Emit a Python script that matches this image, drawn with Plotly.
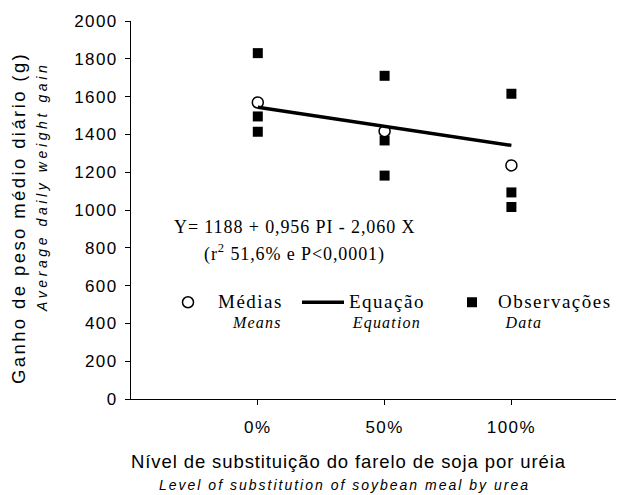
import plotly.graph_objects as go

# ---- data ----
levels = [0, 50, 100]
level_labels = ["0%", "50%", "100%"]
obs_x = [0, 0, 0, 50, 50, 50, 100, 100, 100]
obs_y = [1830, 1495, 1414, 1710, 1368, 1182, 1615, 1093, 1016]
means_y = [1569, 1417, 1236]
eq_y = [1544, 1443, 1342]
y_ticks = list(range(0, 2001, 200))

SANS = "Liberation Sans, Arial, sans-serif"
SERIF = "Liberation Serif, Times New Roman, serif"


def sp(text, ls, size=None, italic=False):
    st = f"letter-spacing:{ls}px;"
    if size:
        st += f"font-size:{size}px;"
    t = f"<span style='{st}'>{text}</span>"
    return f"<i>{t}</i>" if italic else t


fig = go.Figure()
fig.add_trace(go.Scatter(
    x=obs_x, y=obs_y, mode="markers",
    name=sp("Observações", 1.5, 19) + "<br>\u00a0\u00a0" + sp("Data", 1.2, 16, True),
    marker=dict(symbol="square", size=10, color="black"), legend="legend3"))
fig.add_trace(go.Scatter(
    x=levels, y=means_y, mode="markers",
    name=sp("Médias", 1.5, 19) + "<br>\u00a0\u00a0\u00a0\u00a0" + sp("Means", 1.2, 16, True),
    marker=dict(symbol="circle", size=11, color="white", line=dict(color="black", width=1.5)), legend="legend"))
fig.add_trace(go.Scatter(
    x=levels, y=eq_y, mode="lines",
    name=sp("Equação", 1.5, 19) + "<br>\u00a0" + sp("Equation", 1.2, 16, True),
    line=dict(color="black", width=3.5), legend="legend2"))

xr = [-50, 144.4]
axis_common = dict(showgrid=False, zeroline=False, linecolor="black", linewidth=1,
                   tickcolor="black", tickwidth=1, ticklen=5)
# page has an 8px body margin: figure sits at (8, 8)
fig.update_layout(
    width=616, height=487,
    margin=dict(l=123, r=0, t=13, b=96),
    paper_bgcolor="white", plot_bgcolor="white",
    font=dict(family=SANS, color="black", size=17),
    xaxis=dict(range=xr, showline=True, ticks="outside",
               tickvals=levels, ticktext=[sp(t, 1.4) for t in level_labels],
               ticklabelstandoff=8, **axis_common),
    yaxis=dict(range=[0, 2000], showline=True, ticks="outside",
               tickvals=y_ticks, ticktext=[sp(str(v), 1.4) for v in y_ticks],
               ticklabelstandoff=4, **axis_common),
    xaxis2=dict(range=xr, overlaying="x", anchor="y", side="bottom", ticks="inside",
                tickvals=[-50] + levels, showticklabels=False, showline=False, **axis_common),
    yaxis2=dict(range=[0, 2000], overlaying="y", anchor="x", side="left", ticks="inside",
                tickvals=y_ticks, showticklabels=False, showline=False, **axis_common),
    showlegend=True,
)

def px_x(p):
    return (p - 131) / 493
def px_y(p):
    return (399 - p) / 378

leg_common = dict(orientation="h", xanchor="left", yanchor="top", valign="top",
                  bgcolor="rgba(0,0,0,0)", borderwidth=0,
                  font=dict(family=SERIF, size=15, color="black"))
fig.update_layout(
    legend=dict(x=px_x(158), y=px_y(286), itemwidth=50, **leg_common),
    legend2=dict(x=px_x(297), y=px_y(286), itemwidth=42, **leg_common),
    legend3=dict(x=px_x(446), y=px_y(286), itemwidth=42, **leg_common),
)

ann = []
ann.append(dict(x=px_x(294), y=px_y(227), text=sp("Y= 1188 + 0,956 PI - 2,060 X", 0.9),
                font=dict(family=SERIF, size=18)))
ann.append(dict(x=px_x(294), y=px_y(253), text=sp("(r<sup>2</sup> 51,6% e P&lt;0,0001)", 0.9),
                font=dict(family=SERIF, size=18)))
ann.append(dict(x=px_x(18), y=px_y(218), textangle=-90,
                text=sp("Ganho de peso médio diário (g)", 2.4), font=dict(family=SANS, size=18.5)))
ann.append(dict(x=px_x(42), y=px_y(187), textangle=-90,
                text=sp("Average daily weight gain", 3.6, italic=True), font=dict(family=SANS, size=14)))
ann.append(dict(x=px_x(348), y=px_y(461),
                text=sp("Nível de substituição do farelo de soja por uréia", 0.9), font=dict(family=SANS, size=18.5)))
ann.append(dict(x=px_x(344), y=px_y(485),
                text=sp("Level of substitution of soybean meal by urea", 2.0, italic=True), font=dict(family=SANS, size=14)))
for a in ann:
    a.update(xref="paper", yref="paper", showarrow=False, xanchor="center", yanchor="middle")
fig.update_layout(annotations=ann)

fig.write_html("out.html")
